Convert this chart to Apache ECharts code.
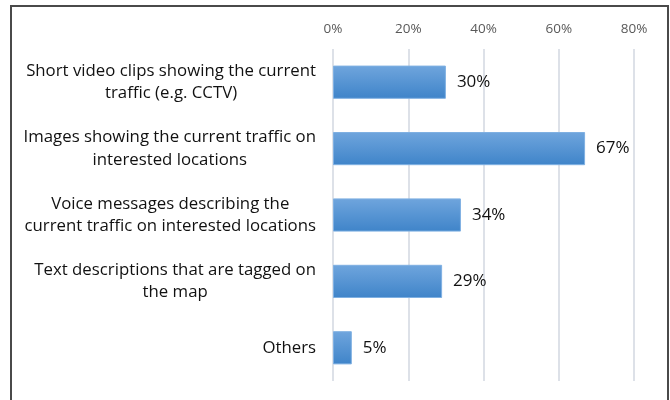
<!DOCTYPE html>
<html>
<head>
<meta charset="utf-8">
<script src="https://cdn.jsdelivr.net/npm/echarts@6/dist/echarts.min.js"></script>
<style>
  html, body { margin: 0; padding: 0; background: #fff; }
  #chart { width: 670px; height: 400px; }
</style>
</head>
<body>
<div id="chart"></div>
<script>
// Preferred ways to receive live traffic information (% of respondents)
const categories = [
  'Short video clips showing the current\ntraffic (e.g. CCTV)',
  'Images showing the current traffic on\ninterested locations',
  'Voice messages describing the\ncurrent traffic on interested locations',
  'Text descriptions that are tagged on\nthe map',
  'Others'
];
const shares = [30, 67, 34, 29, 5];
const tickMax = 80;
const tickStep = 20;

const chart = echarts.init(document.getElementById('chart'));
const fontFamily = '"Open Sans", Lato, sans-serif';

chart.setOption({
  animation: false,
  backgroundColor: '#ffffff',
  graphic: [{
    type: 'rect',
    shape: { x: 11, y: 6, width: 657, height: 420 },
    style: { fill: 'none', stroke: '#4a4a4a', lineWidth: 2 },
    silent: true
  }],
  grid: { left: 333, right: 36, top: 49, bottom: 19, containLabel: false },
  xAxis: {
    type: 'value',
    position: 'top',
    min: 0,
    max: tickMax,
    interval: tickStep,
    axisLine: { show: false },
    axisTick: { show: false },
    axisLabel: {
      formatter: v => v + '%',
      color: '#595959',
      fontSize: 13.5,
      fontFamily: fontFamily,
      margin: 13
    },
    splitLine: { lineStyle: { color: '#dde1e8', width: 2 } }
  },
  yAxis: {
    type: 'category',
    inverse: true,
    data: categories,
    axisLine: { show: false },
    axisTick: { show: false },
    axisLabel: {
      margin: 17,
      align: 'right',
      formatter: v => v.split('\n').map(l => '{c|' + l + '}').join('\n'),
      rich: {
        c: {
          align: 'center',
          fontSize: 16.8,
          lineHeight: 22.5,
          color: '#111',
          fontFamily: fontFamily
        }
      }
    }
  },
  series: [{
    type: 'bar',
    data: shares,
    barCategoryGap: '50%',
    itemStyle: {
      color: new echarts.graphic.LinearGradient(0, 0, 0, 1, [
        { offset: 0, color: '#6fa5dd' },
        { offset: 1, color: '#3f84c9' }
      ]),
      borderColor: '#7fb0e2',
      borderWidth: 1
    },
    label: {
      show: true,
      position: 'right',
      distance: 11,
      formatter: p => p.value + '%',
      fontSize: 17,
      color: '#111',
      fontFamily: fontFamily
    }
  }]
});
</script>
</body>
</html>
